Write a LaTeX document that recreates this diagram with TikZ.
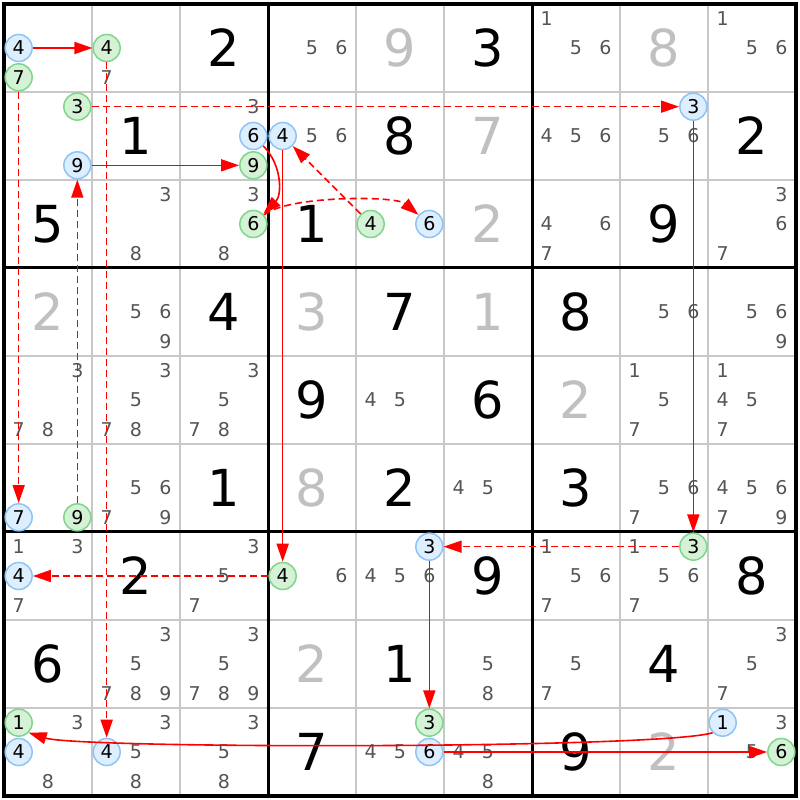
\documentclass[tikz,border=0pt]{standalone}
\usepackage{fontspec}
\setmainfont{DejaVu Sans}
\usetikzlibrary{arrows.meta,calc}

\definecolor{candgray}{HTML}{555555}
\definecolor{solvedgray}{HTML}{C0C0C0}
\definecolor{linegray}{HTML}{C8C8C8}
\definecolor{bluefill}{HTML}{DDEEFF}
\definecolor{blueline}{HTML}{8EC3F5}
\definecolor{greenfill}{HTML}{D6F2D6}
\definecolor{greenline}{HTML}{7ED68A}

\begin{document}
\begin{tikzpicture}[x=1pt,y=1pt]
\tikzstyle{given} = [font=\fontsize{51}{51}\selectfont, inner sep=0pt]
\tikzstyle{solved} = [given, text=solvedgray]
\tikzstyle{cand} = [font=\fontsize{19}{19}\selectfont, text=candgray, inner sep=0pt]
\tikzstyle{bluec} = [circle, draw=blueline, fill=bluefill, line width=1.5pt, minimum size=27pt, inner sep=0pt, font=\fontsize{19}{19}\selectfont]
\tikzstyle{greenc} = [bluec, draw=greenline, fill=greenfill]
\tikzstyle{link} = [red, line width=1.6pt, -{Triangle[length=18pt,width=12pt]}]
\tikzstyle{weak} = [link, dash pattern=on 7pt off 4pt]

\useasboundingbox (0,0) rectangle (800,800);
\fill[white] (0,0) rectangle (800,800);
\foreach \i in {1,2,4,5,7,8}
{
  \draw[linegray, line width=1.5pt] ({4+88*\i},4) -- ({4+88*\i},796);
  \draw[linegray, line width=1.5pt] (4,{4+88*\i}) -- (796,{4+88*\i});
}
\foreach \i in {3,6}
{
  \draw[line width=3pt] ({4+88*\i},4) -- ({4+88*\i},796);
  \draw[line width=3pt] (4,{4+88*\i}) -- (796,{4+88*\i});
}
\draw[line width=3.5pt] (4,4) rectangle (796,796);

% givens and solved cells
\foreach \r/\c/\d in {1/3/2, 1/6/3, 2/2/1, 2/5/8, 2/9/2, 3/1/5, 3/4/1, 3/8/9,
  4/3/4, 4/5/7, 4/7/8, 5/4/9, 5/6/6, 6/3/1, 6/5/2, 6/7/3, 7/2/2, 7/6/9, 7/9/8,
  8/1/6, 8/5/1, 8/8/4, 9/4/7, 9/7/9}
  \node[given] at ({88*\c-40},{840-88*\r}) {\d};
\foreach \r/\c/\d in {1/5/9, 1/8/8, 2/6/7, 3/6/2, 4/1/2, 4/4/3, 4/6/1, 5/7/2,
  6/4/8, 8/4/2, 9/8/2}
  \node[solved] at ({88*\c-40},{840-88*\r}) {\d};

% candidates
\foreach \r/\c/\l in {1/2/{7}, 1/4/{5,6}, 1/7/{1,5,6}, 1/9/{1,5,6},
  2/3/{3}, 2/4/{5,6}, 2/7/{4,5,6}, 2/8/{5,6},
  3/2/{3,8}, 3/3/{3,8}, 3/7/{4,6,7}, 3/9/{3,6,7},
  4/2/{5,6,9}, 4/8/{5,6}, 4/9/{5,6,9},
  5/1/{3,7,8}, 5/2/{3,5,7,8}, 5/3/{3,5,7,8}, 5/5/{4,5}, 5/8/{1,5,7}, 5/9/{1,4,5,7},
  6/2/{5,6,7,9}, 6/6/{4,5}, 6/8/{5,6,7}, 6/9/{4,5,6,7,9},
  7/1/{1,3,7}, 7/3/{3,5,7}, 7/4/{6}, 7/5/{4,5,6}, 7/7/{1,5,6,7}, 7/8/{1,5,6,7},
  8/2/{3,5,7,8,9}, 8/3/{3,5,7,8,9}, 8/6/{5,8}, 8/7/{5,7}, 8/9/{3,5,7},
  9/1/{3,8}, 9/2/{3,5,8}, 9/3/{3,5,8}, 9/5/{4,5}, 9/6/{4,5,8}, 9/9/{3,5}}
  \foreach \d in \l
    \node[cand] at ({88*\c-69.33+29.33*mod(\d-1,3)},{869.33-88*\r-29.33*int((\d-1)/3)}) {\d};

% marked candidates
\foreach \r/\c/\d in {1/1/4, 2/1/9, 2/3/6, 2/4/4, 3/5/6, 2/8/3, 6/1/7, 7/1/4,
  7/5/3, 9/1/4, 9/2/4, 9/5/6, 9/9/1}
  \node[bluec] (b\r\c\d) at ({88*\c-69.33+29.33*mod(\d-1,3)},{869.33-88*\r-29.33*int((\d-1)/3)}) {\d};
\foreach \r/\c/\d in {1/1/7, 1/2/4, 2/1/3, 2/3/9, 3/3/6, 3/5/4, 6/1/9, 7/4/4,
  7/8/3, 9/1/1, 9/5/3, 9/9/6}
  \node[greenc] (g\r\c\d) at ({88*\c-69.33+29.33*mod(\d-1,3)},{869.33-88*\r-29.33*int((\d-1)/3)}) {\d};

% chain
\draw[link] (b114) -- (g124);
\draw[weak] (g117) -- (b617);
\draw[weak] (g619) -- (b219);
\draw[link] (b219) -- (g239);
\draw[link] (b236) to[out=-45,in=45] (g336);
\draw[weak] (g336) to[out=40,in=140,looseness=0.5] (b356);
\draw[weak] (g354) -- (b244);
\draw[link] (b244) -- (g744);
\draw[weak] (g744) -- (b714);
\draw[weak] (g124) -- (b924);
\draw[weak] (g213) -- (b283);
\draw[link] (b283) -- (g783);
\draw[weak] (g783) -- (b753);
\draw[link] (b753) -- (g953);
\draw[link] (b956) -- (g996);
\draw[link] (b991.225) .. controls (660,51) and (80,51) .. (g911.-45);
\end{tikzpicture}
\end{document}
